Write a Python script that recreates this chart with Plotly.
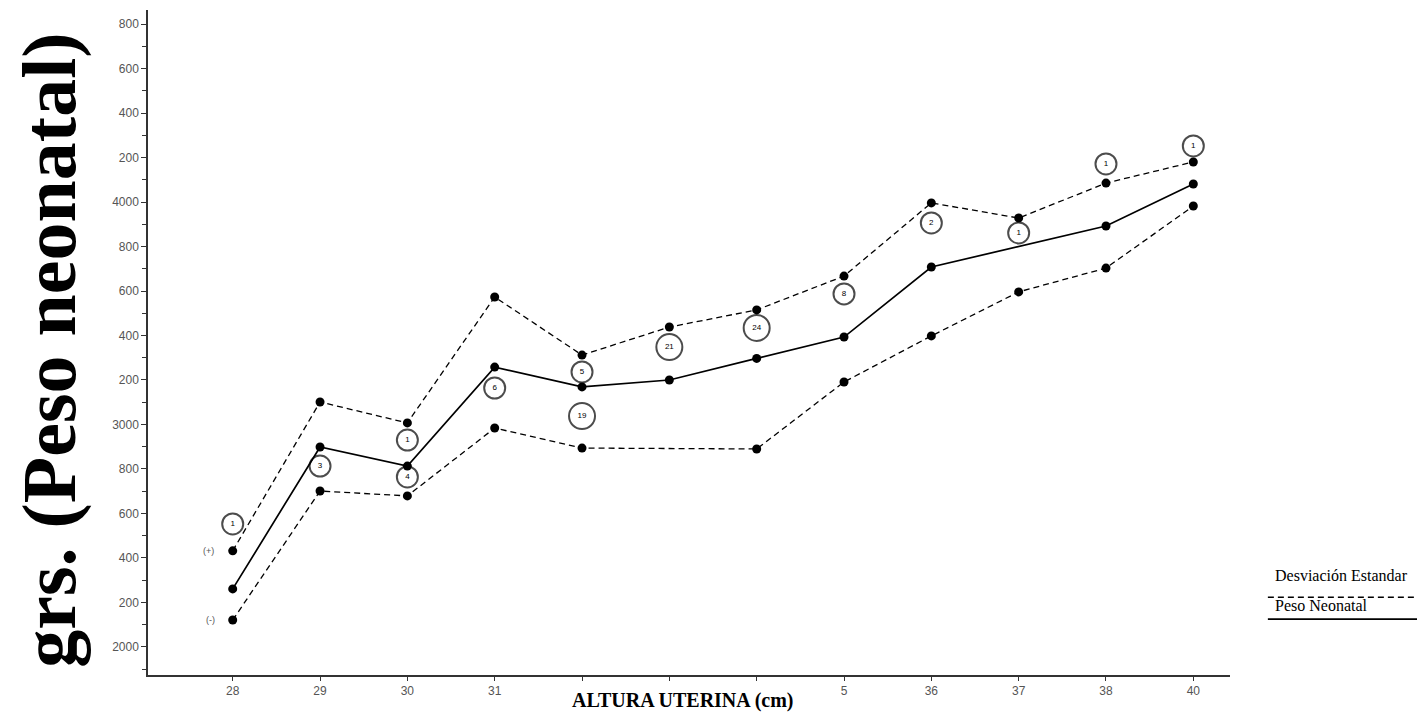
import plotly.graph_objects as go

# Categories (altura uterina, cm)
categorias = ["28", "29", "30", "31", "32", "33", "34", "35", "36", "37", "38", "40"]
etiquetas_x = ["28", "29", "30", "31", "", "", "", "5", "36", "37", "38", "40"]

# Peso neonatal (g)
peso_medio = [2261, 2899, 2813, 3258, 3169, 3200, 3297, 3393, 3708, None, 3892, 4081]
desv_sup = [2432, 3101, 3007, 3573, 3312, 3438, 3515, 3667, 3996, 3928, 4085, 4180]
desv_inf = [2121, 2701, 2679, 2984, 2894, None, 2890, 3191, 3398, 3596, 3703, 3982]

# Sample-size circles (n) and their vertical positions
n_cat = ["28", "29", "30", "30", "31", "32", "32", "33", "34", "35", "36", "37", "38", "40"]
n_val = [2553, 2813, 2930, 2764, 3164, 3236, 3038, 3348, 3434, 3587, 3906, 3861, 4171, 4252]
n_txt = ["1", "3", "1", "4", "6", "5", "19", "21", "24", "8", "2", "1", "1", "1"]

# Y tick labels
y_ticks = list(range(2000, 4801, 200))
y_ticktext = ["2000" if v == 2000 else "3000" if v == 3000 else "4000" if v == 4000 else str(v % 1000) for v in y_ticks]

idx = {c: i for i, c in enumerate(categorias)}
xs = list(range(len(categorias)))
n_x = [idx[c] for c in n_cat]
n_size = [26 if len(t) > 1 else 21 for t in n_txt]

DASH = "6px,4px"
fig = go.Figure()

fig.add_trace(go.Scatter(
    x=xs, y=desv_sup, mode="lines+markers", connectgaps=True,
    line=dict(color="black", width=1.3, dash=DASH),
    marker=dict(color="black", size=9), showlegend=False, hoverinfo="skip"))
fig.add_trace(go.Scatter(
    x=xs, y=desv_inf, mode="lines+markers", connectgaps=True,
    line=dict(color="black", width=1.3, dash=DASH),
    marker=dict(color="black", size=9), showlegend=False, hoverinfo="skip"))
fig.add_trace(go.Scatter(
    x=xs, y=peso_medio, mode="lines+markers", connectgaps=True,
    line=dict(color="black", width=1.7),
    marker=dict(color="black", size=9), showlegend=False, hoverinfo="skip"))

fig.add_trace(go.Scatter(
    x=n_x, y=n_val, mode="markers+text", text=n_txt, textposition="middle center",
    textfont=dict(family="Liberation Sans, Arial", size=8, color="black"),
    marker=dict(symbol="circle-open", size=n_size, color="black", line=dict(width=2, color="black")),
    showlegend=False, hoverinfo="skip"))

# (+) / (-) labels at first category
fig.add_annotation(x=0, y=desv_sup[0], text="(+)", showarrow=False, xshift=-24,
                   font=dict(family="Liberation Sans, Arial", size=9, color="#555"))
fig.add_annotation(x=0, y=desv_inf[0], text="(-)", showarrow=False, xshift=-22,
                   font=dict(family="Liberation Sans, Arial", size=9, color="#555"))

# Axis titles
fig.add_annotation(xref="paper", yref="paper", x=-0.0906, y=0.489, xanchor="center", yanchor="middle",
                   textangle=-90, text="<b>grs. (Peso neonatal)</b>", showarrow=False,
                   font=dict(family="Liberation Serif, Times New Roman", size=76, color="black"))
fig.add_annotation(xref="paper", yref="paper", x=0.494, y=-0.038, xanchor="center", yanchor="middle",
                   text="<b>ALTURA UTERINA (cm)</b>", showarrow=False,
                   font=dict(family="Liberation Serif, Times New Roman", size=20, color="black"))

# Legend drawn as text + lines
fig.add_annotation(xref="paper", yref="paper", x=1.040, y=0.149, xanchor="left", yanchor="middle",
                   text="Desviación Estandar", showarrow=False,
                   font=dict(family="Liberation Serif, Times New Roman", size=16, color="black"))
fig.add_shape(type="line", xref="paper", yref="paper", x0=1.035, x1=1.18, y0=0.117, y1=0.117,
              line=dict(color="black", width=1.4, dash=DASH))
fig.add_annotation(xref="paper", yref="paper", x=1.040, y=0.105, xanchor="left", yanchor="middle",
                   text="Peso Neonatal", showarrow=False,
                   font=dict(family="Liberation Serif, Times New Roman", size=16, color="black"))
fig.add_shape(type="line", xref="paper", yref="paper", x0=1.035, x1=1.18, y0=0.084, y1=0.084,
              line=dict(color="black", width=1.7))

# the page body has an 8px margin, so the figure is shrunk and margins offset by 8px
fig.update_layout(
    width=1417, height=706,
    margin=dict(l=140, r=195, t=2, b=39),
    paper_bgcolor="white", plot_bgcolor="white",
    font=dict(family="Liberation Sans, Arial", color="#444"),
    xaxis=dict(
        range=[-0.97, 11.42], tickmode="array", tickvals=xs, ticktext=etiquetas_x,
        showgrid=False, zeroline=False, showline=True, linecolor="#333", linewidth=1.5,
        ticks="outside", ticklen=4, tickcolor="#333", tickfont=dict(size=12, color="#555"),
        automargin=False,
    ),
    yaxis=dict(
        range=[1874, 4863], tickmode="array", tickvals=y_ticks, ticktext=y_ticktext,
        showgrid=False, zeroline=False, showline=True, linecolor="#333", linewidth=1.5,
        ticks="outside", ticklen=5, tickcolor="#333", tickfont=dict(size=12, color="#555"),
        minor=dict(dtick=100, ticks="outside", ticklen=4, tickcolor="#333"),
        automargin=False,
    ),
)

fig.write_html("out.html")
